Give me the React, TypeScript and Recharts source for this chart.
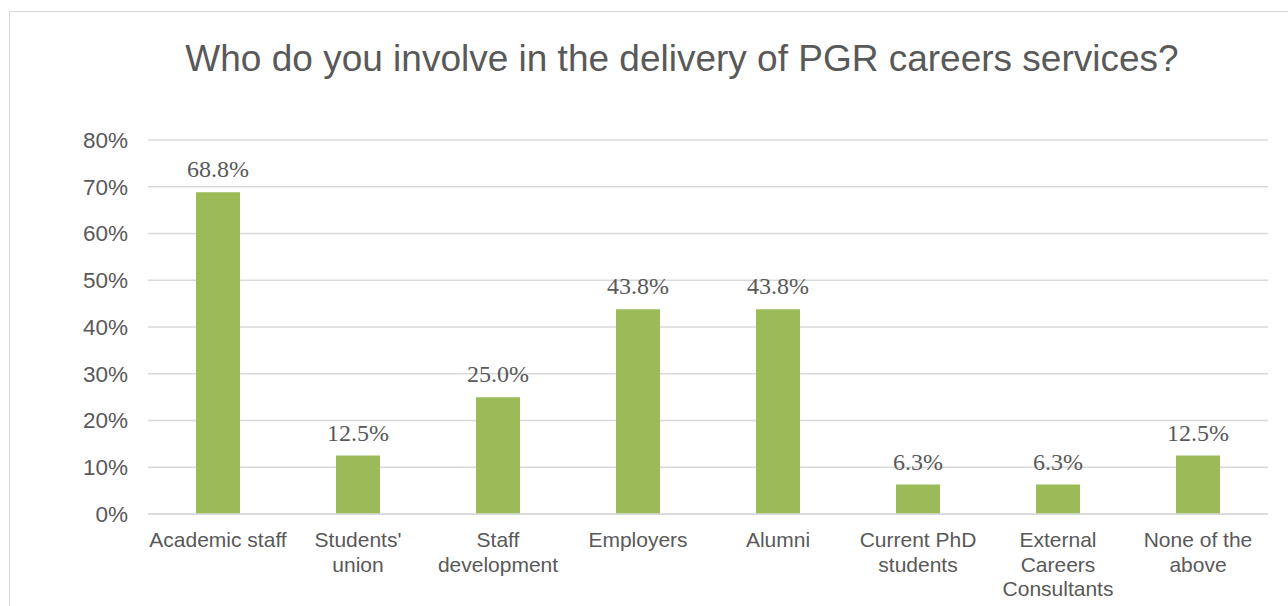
import { Bar, BarChart, CartesianGrid, LabelList, XAxis, YAxis } from "recharts";

const categories = [
  "Academic staff",
  "Students'\nunion",
  "Staff\ndevelopment",
  "Employers",
  "Alumni",
  "Current PhD\nstudents",
  "External\nCareers\nConsultants",
  "None of the\nabove",
];
const shares = [68.8, 12.5, 25.0, 43.8, 43.8, 6.3, 6.3, 12.5];
const yTicks = [0, 10, 20, 30, 40, 50, 60, 70, 80];

const data = categories.map((name, i) => ({ name, value: shares[i] }));

const TEXT = "#595959";
const SANS = "'Liberation Sans', Arial, sans-serif";

function CategoryTick({ x, y, payload }: any) {
  const lines = String(payload.value).split("\n");
  return (
    <text x={x} y={y} textAnchor="middle" fill={TEXT} fontFamily={SANS} fontSize={21}>
      {lines.map((line, i) => (
        <tspan key={i} x={x} y={y + 33 + i * 24.5}>
          {line}
        </tspan>
      ))}
    </text>
  );
}

export default function App() {
  return (
    <div
      style={{
        position: "absolute",
        left: 0,
        top: 0,
        width: 1288,
        height: 606,
        overflow: "hidden",
        background: "#fff",
      }}
    >
      {/* chart frame, runs off the right/bottom edge like the screenshot */}
      <div
        style={{
          position: "absolute",
          left: 9,
          top: 11,
          width: 1300,
          height: 620,
          border: "1px solid #d9d9d9",
        }}
      />
      <div
        style={{
          position: "absolute",
          left: 82,
          top: 40,
          width: 1200,
          textAlign: "center",
          fontFamily: SANS,
          fontSize: 37,
          lineHeight: "37px",
          color: TEXT,
          whiteSpace: "nowrap",
        }}
      >
        Who do you involve in the delivery of PGR careers services?
      </div>
      <div style={{ position: "absolute", left: 0, top: 0 }}>
        <BarChart
          width={1288}
          height={606}
          data={data}
          margin={{ top: 140, right: 20, bottom: 0, left: 0 }}
          barSize={44}
        >
          <CartesianGrid vertical={false} stroke="#d9d9d9" strokeWidth={1.5} />
          <XAxis
            dataKey="name"
            interval={0}
            tickLine={false}
            tickSize={0}
            tickMargin={0}
            axisLine={{ stroke: "#d9d9d9", strokeWidth: 1.5 }}
            tick={<CategoryTick />}
            height={92}
          />
          <YAxis
            domain={[0, 80]}
            ticks={yTicks}
            tickFormatter={(v: number) => `${v}%`}
            axisLine={false}
            tickLine={false}
            tickSize={0}
            tickMargin={20}
            width={148}
            tick={{ fill: TEXT, fontSize: 22.5, fontFamily: SANS }}
          />
          <Bar dataKey="value" fill="#9bbb59" isAnimationActive={false}>
            <LabelList
              dataKey="value"
              position="top"
              offset={15}
              formatter={(v: any) => `${Number(v).toFixed(1)}%`}
              style={{ fill: TEXT, fontSize: 24, fontFamily: "'Liberation Serif', 'Times New Roman', serif" }}
            />
          </Bar>
        </BarChart>
      </div>
    </div>
  );
}
